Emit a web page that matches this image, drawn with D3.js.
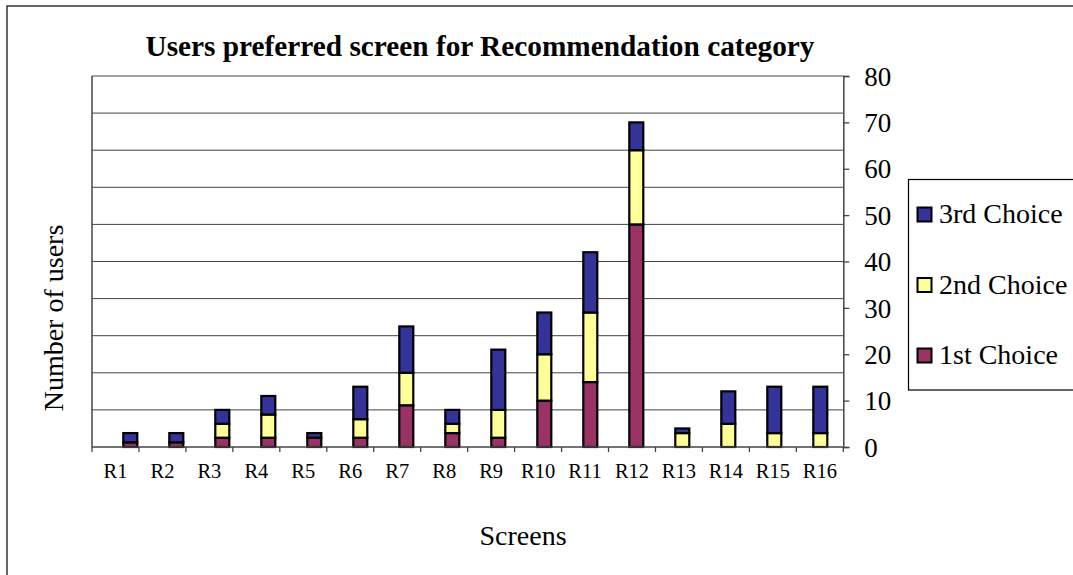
<!DOCTYPE html>
<html>
<head>
<meta charset="utf-8">
<script src="https://cdn.jsdelivr.net/npm/d3@7"></script>
<style>
  html, body { margin: 0; padding: 0; background: #fff; }
  svg { display: block; }
  svg text { font-family: "Liberation Serif", "Times New Roman", serif !important; }
</style>
</head>
<body>
<svg id="chart" width="1073" height="575"></svg>
<script>
// ---- data ----
const categories = ["R1","R2","R3","R4","R5","R6","R7","R8","R9","R10","R11","R12","R13","R14","R15","R16"];
const firstChoice  = [1, 1, 2, 2, 2, 2, 9, 3, 2, 10, 14, 48, 0, 0, 0, 0];
const secondChoice = [0, 0, 3, 5, 0, 4, 7, 2, 6, 10, 15, 16, 3, 5, 3, 3];
const thirdChoice  = [2, 2, 3, 4, 1, 7, 10, 3, 13, 9, 13, 6, 1, 7, 10, 10];
const seriesNames  = ["1st Choice", "2nd Choice", "3rd Choice"];
const yTickValues  = [0, 10, 20, 30, 40, 50, 60, 70, 80];
const gridValues   = [8, 16, 24, 32, 40, 48, 56, 64, 72, 80];

const colors = { "1st Choice": "#993366", "2nd Choice": "#FFFF99", "3rd Choice": "#333399" };

const svg = d3.select("#chart");

// outer chart border
svg.append("rect").attr("x", 7).attr("y", 6).attr("width", 1100).attr("height", 600)
  .attr("fill", "none").attr("stroke", "#000").attr("stroke-width", 1.2);

const plot = { left: 92, right: 843.3, top: 76, bottom: 447 };

const y = d3.scaleLinear().domain([0, 80]).range([plot.bottom, plot.top]);
const xAxisScale = d3.scaleBand().domain(categories).range([plot.left, plot.right]);
const xBar = d3.scalePoint().domain(categories).range([107.3, 843.3]).padding(0.5);

// gridlines
svg.append("g").selectAll("line").data(gridValues).join("line")
  .attr("x1", plot.left).attr("x2", plot.right)
  .attr("y1", d => y(d)).attr("y2", d => y(d))
  .attr("stroke", "#444").attr("stroke-width", 1);

// plot area left border
svg.append("line").attr("x1", plot.left).attr("x2", plot.left)
  .attr("y1", plot.top).attr("y2", plot.bottom)
  .attr("stroke", "#444").attr("stroke-width", 1.5);

// stacked data
const table = categories.map((c, i) => ({
  cat: c, "1st Choice": firstChoice[i], "2nd Choice": secondChoice[i], "3rd Choice": thirdChoice[i]
}));
const stacked = d3.stack().keys(seriesNames)(table);

const barW = 14;
svg.append("g").selectAll("g").data(stacked).join("g")
  .attr("fill", d => colors[d.key])
  .selectAll("rect").data(d => d.filter(s => s[1] - s[0] > 0)).join("rect")
  .attr("x", d => xBar(d.data.cat) - barW / 2)
  .attr("width", barW)
  .attr("y", d => y(d[1]))
  .attr("height", d => y(d[0]) - y(d[1]))
  .attr("stroke", "#000").attr("stroke-width", 2.2);

// x axis
const xAxisG = svg.append("g").attr("transform", `translate(0,${plot.bottom})`);
xAxisG.append("line").attr("x1", plot.left).attr("x2", plot.right)
  .attr("stroke", "#444").attr("stroke-width", 1.3);
const boundaries = categories.map(c => xAxisScale(c)).concat([plot.right]);
xAxisG.selectAll("line.tick").data(boundaries).join("line").attr("class", "tick")
  .attr("x1", d => d).attr("x2", d => d).attr("y1", 0).attr("y2", 5)
  .attr("stroke", "#444").attr("stroke-width", 1.3);
xAxisG.selectAll("text").data(categories).join("text")
  .attr("x", d => xAxisScale(d) + xAxisScale.bandwidth() / 2)
  .attr("y", 31).attr("text-anchor", "middle")
  .attr("font-size", 20.5).attr("fill", "#000").text(d => d);

// right y axis
const yAxisG = svg.append("g").attr("transform", `translate(${plot.right},0)`)
  .call(d3.axisRight(y).tickValues(yTickValues).tickSize(6).tickPadding(15).tickFormat(d3.format("d")));
yAxisG.attr("font-family", null);
yAxisG.select(".domain").attr("stroke", "#444").attr("stroke-width", 1.5);
yAxisG.selectAll(".tick line").attr("stroke", "#444").attr("stroke-width", 1.3);
yAxisG.selectAll(".tick text").attr("font-size", 27)
  .attr("fill", "#000").attr("dy", "0.34em");

// title
svg.append("text").attr("x", 480).attr("y", 56).attr("text-anchor", "middle")
  .attr("font-size", 29.3).attr("font-weight", "bold").text("Users preferred screen for Recommendation category");

// axis titles
svg.append("text").attr("x", 523).attr("y", 545).attr("text-anchor", "middle")
  .attr("font-size", 28).text("Screens");
svg.append("text").attr("transform", "translate(63,318) rotate(-90)").attr("text-anchor", "middle")
  .attr("font-size", 28).text("Number of users");

// legend
const legend = svg.append("g");
legend.append("rect").attr("x", 908.5).attr("y", 179.5).attr("width", 200).attr("height", 210.5)
  .attr("fill", "#fff").attr("stroke", "#000").attr("stroke-width", 1.2);
const legendOrder = ["3rd Choice", "2nd Choice", "1st Choice"];
const legY = d3.scalePoint().domain(legendOrder).range([214.5, 355.5]);
const li = legend.selectAll("g.item").data(legendOrder).join("g").attr("class", "item");
li.append("rect").attr("x", 917.5).attr("y", d => legY(d) - 7).attr("width", 14).attr("height", 14)
  .attr("fill", d => colors[d]).attr("stroke", "#000").attr("stroke-width", 2);
li.append("text").attr("x", 939).attr("y", d => legY(d) + 8.5)
  .attr("font-size", 28).text(d => d);
</script>
</body>
</html>
